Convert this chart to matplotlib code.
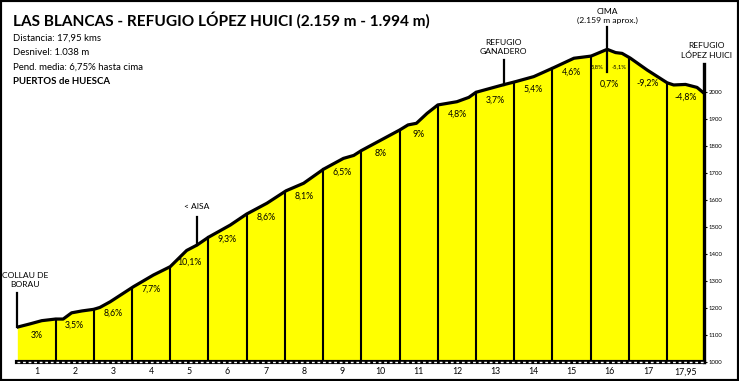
import numpy as np
import matplotlib
matplotlib.use("Agg")
import matplotlib.pyplot as plt
from matplotlib.patches import Rectangle

plt.rcParams['font.family'] = ['Lato', 'DejaVu Sans']

# perfil (km, altitud en m)
km = [0, 0.33, 0.64, 1.0, 1.2, 1.42, 1.69, 2.0, 2.16, 2.43, 3.04, 3.56, 4.0,
      4.43, 4.7, 5.0, 5.57, 6.0, 6.53, 7.03, 7.49, 8.01, 8.53, 8.8, 9.0,
      10.0, 10.22, 10.44, 10.72, 11.0, 11.5, 11.81, 12.0, 12.72, 13.0,
      13.51, 14.03, 14.56, 15.01, 15.43, 15.65, 15.82, 16.04, 16.48, 17.0,
      17.17, 17.48, 17.78, 17.95]
alt = [1128, 1140, 1152, 1158, 1158, 1181, 1188, 1194, 1201, 1222, 1278,
       1321, 1352, 1412, 1432, 1461, 1506, 1547, 1587, 1633, 1661, 1713,
       1753, 1764, 1782, 1858, 1877, 1883, 1920, 1951, 1963, 1979, 1998,
       2026, 2036, 2056, 2089, 2124, 2132, 2157, 2145, 2142, 2124, 2080,
       2033, 2025, 2027, 2016, 1996]

# tramos de 1 km
tramos = [0, 1, 2, 3, 4, 5, 6, 7, 8, 9, 10, 11, 12, 13, 14, 15, 16, 17, 17.95]
pendientes = ["3%", "3,5%", "8,6%", "7,7%", "10,1%", "9,3%", "8,6%", "8,1%",
              "6,5%", "8%", "9%", "4,8%", "3,7%", "5,4%", "4,6%", "0,7%",
              "-9,2%", "-4,8%"]
km_labels = ["1", "2", "3", "4", "5", "6", "7", "8", "9", "10", "11", "12",
             "13", "14", "15", "16", "17", "17,95"]
sub_pend = ["5,8%", "-5,1%"]
sub_km = [15.17, 15.73]

# puntos de paso
hitos = ["COLLAU DE\nBORAU", "< AISA", "REFUGIO\nGANADERO",
         "CIMA\n(2.159 m aprox.)", "REFUGIO\nLÓPEZ HUICI"]
hitos_km = [0, 4.7, 12.72, 15.43, 17.95]

titulo = "LAS BLANCAS - REFUGIO LÓPEZ HUICI (2.159 m - 1.994 m)"
info = ["Distancia: 17,95 kms", "Desnivel: 1.038 m",
        "Pend. media: 6,75% hasta cima"]
serie = "PUERTOS de HUESCA"

W, H = 739, 381
fig = plt.figure(figsize=(W / 100, H / 100), dpi=100)
fig.patch.set_facecolor("white")

x0, x1, yb = 17.3, 703.5, 361.7
ax = fig.add_axes([x0 / W, (H - yb) / H, (x1 - x0) / W, yb / H])
ymax = 1000 + yb * 3.704
ax.set_xlim(0, 17.95)
ax.set_ylim(1000, ymax)
ax.patch.set_alpha(0)

ax.fill_between(km, 1000, alt, color="#FFFF00", lw=0)
ax.plot(km, alt, color="black", lw=2.3, solid_joinstyle="round", zorder=4)

# lineas de cada km
for t in tramos[1:-1]:
    ax.plot([t, t], [1000, np.interp(t, km, alt)], color="black", lw=1.5, zorder=3)

# etiquetas de pendiente
for i, p in enumerate(pendientes):
    xm = (tramos[i] + tramos[i + 1]) / 2
    off = 48 if i != 15 else 125
    ax.text(xm, np.interp(xm, km, alt) - off, p, ha="center", va="center",
            fontsize=6.3, zorder=5)
for s, k in zip(sub_pend, sub_km):
    ax.text(k, 2093, s, ha="center", va="center", fontsize=4.2, zorder=5)

# puntos de paso
txt_alt = [1302, 1574, 2167, 2282, 2152]
txt_km = [0.2, 4.7, 12.72, 15.43, 18.03]
line_top = [1254, 1537, 2117, 2239, None]
line_bot = [None, None, None, 2073, None]
for h, k, ty, tk, lt, lb in zip(hitos, hitos_km, txt_alt, txt_km, line_top, line_bot):
    ax.text(tk, ty, h, ha="center", va="center", fontsize=6.1,
            linespacing=1.3, clip_on=False, zorder=5)
    if lt is not None:
        bot = lb if lb is not None else np.interp(k, km, alt)
        ax.plot([k, k], [bot, lt], color="black", lw=1.6, clip_on=False, zorder=5)

# ejes
for s in ["top", "left"]:
    ax.spines[s].set_visible(False)
ax.spines["bottom"].set_linewidth(3)
ax.spines["right"].set_linewidth(2.4)
ax.spines["right"].set_bounds(1000, 2102)
ax.plot([0, 17.95], [1000, 1000], color="white", lw=1, ls=(0, (2, 2)),
        clip_on=False, zorder=6)

ax.set_xticks([(tramos[i] + tramos[i + 1]) / 2 for i in range(len(km_labels))])
ax.set_xticklabels(km_labels, fontsize=6.3)
ax.tick_params(axis="x", length=0, pad=4)
ax.yaxis.tick_right()
ax.set_yticks(range(1000, 2001, 100))
ax.tick_params(axis="y", length=2.5, width=0.8, pad=1.5, labelsize=4.3)

# textos de cabecera
fig.text(12.7 / W, 1 - 20 / H, titulo, fontsize=11.1, fontweight="bold",
         va="center", ha="left")
for i, line in enumerate(info):
    fig.text(12.7 / W, 1 - (38 + 14.7 * i) / H, line, fontsize=6.9,
             va="center", ha="left")
fig.text(12.7 / W, 1 - 82 / H, serie, fontsize=6.9, fontweight="bold",
         va="center", ha="left")

fig.patches.append(Rectangle((0, 0), 1, 1, transform=fig.transFigure,
                             fill=False, lw=3, edgecolor="black"))

fig.savefig("out.png", dpi=100)
